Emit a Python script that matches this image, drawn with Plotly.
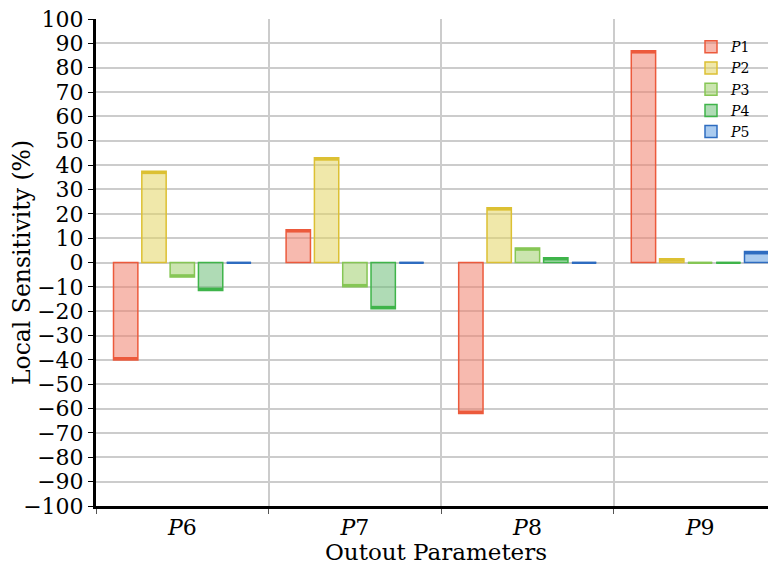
import plotly.graph_objects as go

categories = ["<i>P</i>6", "<i>P</i>7", "<i>P</i>8", "<i>P</i>9"]
series_names = ["<i>P</i>1", "<i>P</i>2", "<i>P</i>3", "<i>P</i>4", "<i>P</i>5"]
values_P1 = [-40, 13.5, -62, 87]
values_P2 = [37.5, 43, 22.5, 1.5]
values_P3 = [-6, -10, 6, 0]
values_P4 = [-11.5, -19, 2, 0]
values_P5 = [0, 0, 0, 4.5]
series_values = [values_P1, values_P2, values_P3, values_P4, values_P5]
y_tick_vals = list(range(-100, 101, 10))
y_tick_text = [("\u2212" + str(-v)) if v < 0 else str(v) for v in y_tick_vals]

line_colors = ["#ec5a3c", "#dcc033", "#86c655", "#3fb44a", "#2e6cc0"]
fill_colors = ["rgba(240,130,110,0.55)", "rgba(228,214,100,0.55)",
               "rgba(160,208,110,0.55)", "rgba(110,190,120,0.55)",
               "rgba(100,160,225,0.55)"]

FONT = "DejaVu Serif"
CAP = 1.2

fig = go.Figure()
for i, (name, vals) in enumerate(zip(series_names, series_values)):
    fig.add_trace(go.Bar(
        x=categories, y=vals, name=name, offsetgroup=str(i), legendgroup=str(i),
        marker=dict(color=fill_colors[i], line=dict(color=line_colors[i], width=1.5)),
    ))
    cap_base = []
    cap_h = []
    for v in vals:
        if v > 0:
            cap_base.append(v - CAP); cap_h.append(CAP)
        elif v < 0:
            cap_base.append(v); cap_h.append(CAP)
        else:
            cap_base.append(-0.3); cap_h.append(0.6)
    fig.add_trace(go.Bar(
        x=categories, y=cap_h, base=cap_base, offsetgroup=str(i), legendgroup=str(i),
        showlegend=False, hoverinfo="skip",
        marker=dict(color=line_colors[i], line=dict(width=0)),
    ))

# the page body adds an 8px margin, so the figure is 8px smaller than the window
fig.update_layout(
    width=768, height=557,
    margin=dict(l=88, r=0, t=11, b=59, autoexpand=False),
    paper_bgcolor="white", plot_bgcolor="white",
    barmode="group", bargap=0.18, bargroupgap=0.14,
    font=dict(family=FONT, color="black", size=22),
    legend=dict(x=0.875, y=0.975, xanchor="left", yanchor="top",
                bgcolor="rgba(0,0,0,0)", font=dict(size=14, family=FONT),
                itemwidth=30, tracegroupgap=0),
)
fig.update_xaxes(
    automargin=False,
    tickson="boundaries", showgrid=True, gridcolor="#cccccc", gridwidth=1.5,
    showline=True, linecolor="black", linewidth=3,
    ticks="outside", ticklen=5, tickcolor="#555555",
    tickfont=dict(size=22, family=FONT),
    title=dict(text="Outout Parameters", font=dict(size=23, family=FONT), standoff=2),
    range=[-0.5, 3.44],
)
fig.update_yaxes(
    automargin=False, ticklabeloverflow="allow",
    range=[-100, 100], tickvals=y_tick_vals, ticktext=y_tick_text,
    showgrid=True, gridcolor="#cccccc", gridwidth=1.5, zeroline=False,
    showline=True, linecolor="black", linewidth=3,
    ticks="outside", ticklen=5, tickcolor="black",
    tickfont=dict(size=22, family=FONT),
    title=dict(text="Local Sensitivity (%)", font=dict(size=23.5, family=FONT), standoff=0),
)
fig.write_html("out.html")
